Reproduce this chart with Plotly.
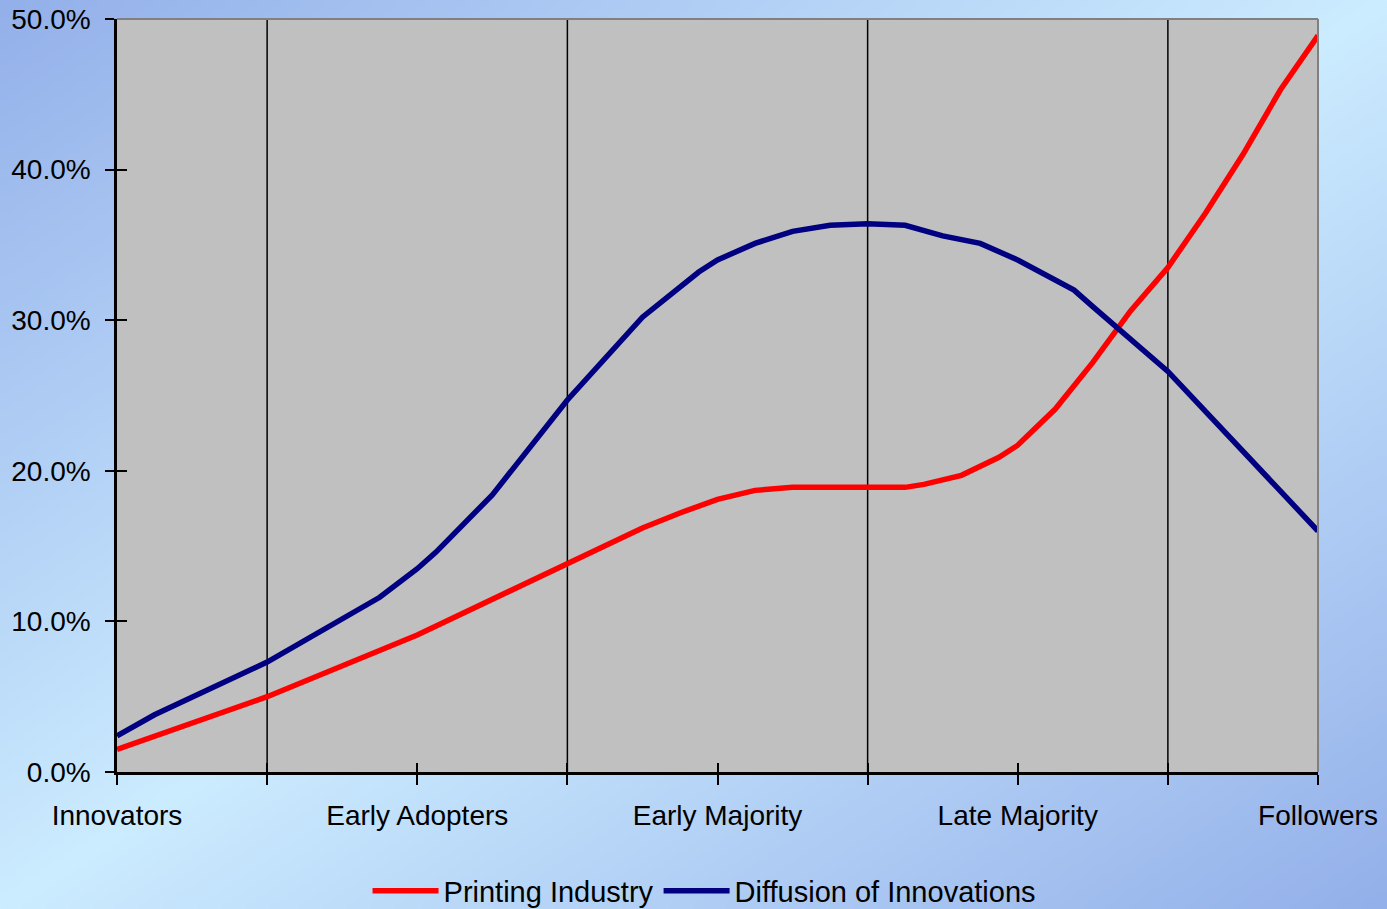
import base64
import struct
import zlib

import numpy as np
import plotly.graph_objects as go

# Adoption stages along the category axis
stage_ticks = [0, 1, 2, 3, 4, 5, 6, 7, 8]
stage_labels = ["Innovators", "", "Early Adopters", "", "Early Majority", "",
                "Late Majority", "", "Followers"]
stage_bounds = [1, 3, 5, 7]

# Printing Industry (% of adopters)
printing_x = [0, 1, 2, 2.25, 2.5, 3, 3.5, 3.75, 4, 4.25, 4.5, 5.25, 5.375,
              5.625, 5.875, 6, 6.25, 6.5, 6.75, 7, 7.25, 7.5, 7.75, 8]
printing_y = [1.5, 5.0, 9.1, 10.3, 11.5, 13.9, 16.2, 17.2, 18.1, 18.7, 18.9,
              18.9, 19.1, 19.7, 20.9, 21.7, 24.1, 27.2, 30.6, 33.5, 37.1,
              41.0, 45.3, 48.9]

# Diffusion of Innovations (% of adopters)
diffusion_x = [0, 0.25, 1, 1.25, 1.5, 1.75, 2, 2.125, 2.5, 3, 3.5, 3.625,
               3.75, 3.875, 4, 4.25, 4.5, 4.75, 5, 5.25, 5.5, 5.75, 6, 6.125,
               6.25, 6.375, 6.5, 6.75, 7, 8]
diffusion_y = [2.4, 3.8, 7.3, 8.7, 10.1, 11.6, 13.5, 14.6, 18.4, 24.7, 30.2,
               31.2, 32.3, 33.2, 34.0, 35.1, 35.9, 36.3, 36.4, 36.3, 35.6,
               35.1, 34.0, 33.3, 32.7, 32.0, 30.9, 28.7, 26.6, 16.0]

FONT = "Liberation Sans, Arial, sans-serif"
W, H = 1387, 909
ML, MR, MT, MB = 117, 69, 19, 137
PW, PH = W - ML - MR, H - MT - MB


def gradient_png(w, h, light, dark):
    """Diagonal two-tone page background encoded as a PNG data URI."""
    xs = np.linspace(0, 1, w)[None, :]
    ys = np.linspace(0, 1, h)[:, None]
    t = np.abs(xs + ys - 1.0)
    light = np.array(light, float)
    dark = np.array(dark, float)
    img = light[None, None, :] + (dark - light)[None, None, :] * t[..., None]
    img = np.clip(img, 0, 255).astype(np.uint8)
    raw = b"".join(b"\x00" + row.tobytes() for row in img)

    def chunk(tag, data):
        c = struct.pack(">I", len(data)) + tag + data
        return c + struct.pack(">I", zlib.crc32(tag + data) & 0xFFFFFFFF)

    png = (b"\x89PNG\r\n\x1a\n"
           + chunk(b"IHDR", struct.pack(">IIBBBBB", w, h, 8, 2, 0, 0, 0))
           + chunk(b"IDAT", zlib.compress(raw, 9))
           + chunk(b"IEND", b""))
    return "data:image/png;base64," + base64.b64encode(png).decode()


bg = gradient_png(347, 227, (204, 236, 255), (148, 176, 234))

fig = go.Figure()
fig.add_trace(go.Scatter(
    x=printing_x, y=printing_y, mode="lines", name="Printing Industry",
    line=dict(color="#FF0000", width=5.5)))
fig.add_trace(go.Scatter(
    x=diffusion_x, y=diffusion_y, mode="lines", name="Diffusion of Innovations",
    line=dict(color="#000080", width=5.5)))
# empty traces that carry the inner halves of the crossing tick marks
fig.add_trace(go.Scatter(x=[], y=[], xaxis="x2", yaxis="y",
                         showlegend=False, hoverinfo="skip"))
fig.add_trace(go.Scatter(x=[], y=[], xaxis="x", yaxis="y2",
                         showlegend=False, hoverinfo="skip"))

# grey plot area drawn over the page gradient
fig.add_shape(type="rect", xref="paper", yref="paper", x0=0, x1=1, y0=0, y1=1,
              fillcolor="#C0C0C0", line=dict(width=0), layer="below")

for b in stage_bounds:
    fig.add_shape(type="line", xref="x", yref="paper", x0=b, x1=b, y0=0, y1=1,
                  line=dict(color="black", width=1.5), layer="below")

# grey frame on the top and right edges of the plot area
fig.add_shape(type="line", xref="paper", yref="paper", x0=0, x1=1, y0=1, y1=1,
              line=dict(color="#808080", width=2), layer="above")
fig.add_shape(type="line", xref="paper", yref="paper", x0=1, x1=1, y0=0, y1=1,
              line=dict(color="#808080", width=2), layer="above")

fig.update_layout(
    width=W, height=H, autosize=False,
    margin=dict(l=ML, r=MR, t=MT, b=MB, autoexpand=False),
    paper_bgcolor="#C4E2FC",
    plot_bgcolor="rgba(0,0,0,0)",
    font=dict(family=FONT, size=28, color="black"),
    images=[dict(source=bg, xref="paper", yref="paper",
                 x=-ML / PW, y=1 + MT / PH, sizex=W / PW, sizey=H / PH,
                 xanchor="left", yanchor="top", sizing="stretch",
                 layer="below")],
    xaxis=dict(range=[0, 8], tickmode="array", tickvals=stage_ticks,
               ticktext=stage_labels, ticks="outside", ticklen=10,
               tickwidth=1.5, tickcolor="black", showline=True,
               linecolor="black", linewidth=2.5, showgrid=False,
               zeroline=False, automargin=False, ticklabelstandoff=7,
               tickfont=dict(size=28, family=FONT)),
    xaxis2=dict(range=[0, 8], overlaying="x", anchor="y", side="bottom",
                tickmode="array", tickvals=stage_ticks, ticks="inside",
                ticklen=9, tickwidth=1.5, tickcolor="black",
                showticklabels=False, showgrid=False, zeroline=False,
                showline=False, automargin=False),
    yaxis=dict(range=[0, 50], tickmode="linear", tick0=0, dtick=10,
               tickformat=".1f", ticksuffix="%", ticks="outside", ticklen=9,
               tickwidth=1.5, tickcolor="black", showline=True,
               linecolor="black", linewidth=2.5, showgrid=False,
               zeroline=False, automargin=False, ticklabelstandoff=9,
               tickfont=dict(size=28, family=FONT)),
    yaxis2=dict(range=[0, 50], overlaying="y", anchor="x", side="left",
                tickmode="linear", tick0=0, dtick=10, ticks="inside",
                ticklen=10, tickwidth=1.5, tickcolor="black",
                showticklabels=False, showgrid=False, zeroline=False,
                showline=False, automargin=False),
    legend=dict(orientation="h", xref="container", yref="container",
                x=0.5076, xanchor="center", y=0.02, yanchor="middle",
                bgcolor="rgba(0,0,0,0)", font=dict(size=29, family=FONT),
                itemwidth=66, tracegroupgap=0),
    showlegend=True,
)

fig.write_html("out.html")
